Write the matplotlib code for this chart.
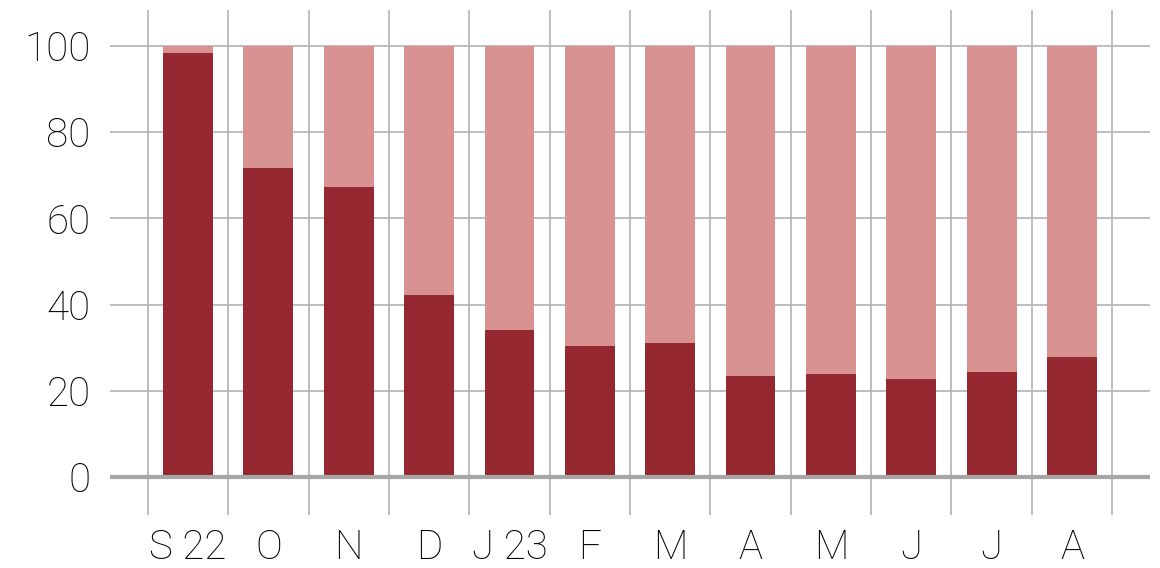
import matplotlib
matplotlib.use("Agg")
import matplotlib.pyplot as plt
import numpy as np

categories = ["S 22", "O", "N", "D", "J 23", "F", "M", "A", "M", "J", "J", "A"]
dark_values = [98.3, 71.8, 67.3, 42.2, 34.2, 30.4, 31.1, 23.4, 23.9, 22.7, 24.4, 27.8]
light_values = [100 - v for v in dark_values]
y_ticks = [0, 20, 40, 60, 80, 100]

plt.rcParams['font.family'] = ['Roboto', 'DejaVu Sans']

fig = plt.figure(figsize=(11.6, 5.68), dpi=100)
ax = fig.add_axes([110/1160, 1 - 515/568, 1040/1160, 505/568])

x = np.arange(len(categories))
ax.bar(x, dark_values, width=0.62, color="#94272f", zorder=3)
ax.bar(x, light_values, bottom=dark_values, width=0.62, color="#d99292", zorder=3)

ax.set_xlim(-0.97, len(categories) - 1 + 0.97)
ax.set_ylim(-8.82, 108.35)

ax.set_xticks(x)
ax.set_xticklabels(categories, fontsize=29, fontweight='light')
ax.set_xticks(np.arange(-0.5, len(categories), 1.0), minor=True)
ax.set_yticks(y_ticks)
ax.set_yticklabels([str(t) for t in y_ticks], fontsize=29, fontweight='light')

ax.tick_params(axis='both', which='both', length=0)
ax.tick_params(axis='x', which='major', pad=10)
ax.tick_params(axis='y', which='major', pad=14)

ax.grid(axis='y', which='major', color="#b3b3b3", linewidth=1.2, zorder=0)
ax.grid(axis='x', which='minor', color="#b3b3b3", linewidth=1.2, zorder=0)
ax.grid(axis='x', which='major', visible=False)
ax.set_axisbelow(True)

ax.axhline(0, color="#a6a6a6", linewidth=3, zorder=4)

for s in ax.spines.values():
    s.set_visible(False)

fig.savefig("out.png", dpi=100)
